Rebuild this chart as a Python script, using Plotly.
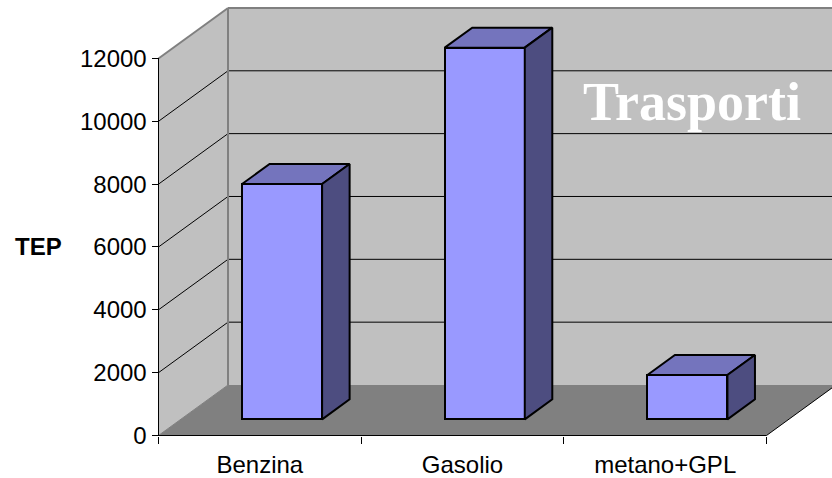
import plotly.graph_objects as go

categories = ["Benzina", "Gasolio", "metano+GPL"]
tep_values = [7490, 11830, 1410]
y_tick_values = [0, 2000, 4000, 6000, 8000, 10000, 12000]

WIDTH, HEIGHT = 832, 478

# Axis calibration: one category band and one TEP unit, in screen pixels.
PX_PER_CATEGORY = 202.67
PX_PER_TEP = 0.03142
AXIS_X_PX = 158.5
AXIS_Y_PX = 435.5

# Oblique projection of the box: a full unit of depth moves a point this far.
DEPTH_X = 69.5 / PX_PER_CATEGORY
DEPTH_Y = 50.5 / PX_PER_TEP
BAR_WIDTH = 0.395
BAR_FRONT_DEPTH = 0.32
BAR_BACK_DEPTH = 0.716

FRONT, TOP, SIDE = "#9999FF", "#7474BD", "#4D4D80"
WALL, FLOOR, EDGE = "#C0C0C0", "#808080", "#808080"
N = len(categories)


def proj(x, value, depth=0.0):
    return x + depth * DEPTH_X, value + depth * DEPTH_Y


def path(points):
    return "M" + " L".join(f"{x},{y}" for x, y in points) + " Z"


def wall_shape(points, fill, line_color="rgba(0,0,0,0)", line_width=0):
    return dict(type="path", path=path(points), xref="x", yref="y", layer="below",
                fillcolor=fill, line=dict(color=line_color, width=line_width))


def seg(p, q, color, width):
    return dict(type="line", xref="x", yref="y", layer="below",
                x0=p[0], y0=p[1], x1=q[0], y1=q[1],
                line=dict(color=color, width=width))


top_tick = y_tick_values[-1]
shapes = [
    # back wall, side wall, floor
    wall_shape([proj(0, 0, 1), proj(N, 0, 1), proj(N, top_tick, 1), proj(0, top_tick, 1)], WALL),
    wall_shape([proj(0, 0), proj(0, 0, 1), proj(0, top_tick, 1), proj(0, top_tick)], WALL),
    wall_shape([proj(0, 0), proj(N, 0), proj(N, 0, 1), proj(0, 0, 1)], FLOOR),
]
# gridlines run along the side wall and then across the back wall
for v in y_tick_values[1:-1]:
    shapes.append(seg(proj(0, v), proj(0, v, 1), "#000000", 1))
    shapes.append(seg(proj(0, v, 1), proj(N, v, 1), "#000000", 1))
shapes += [
    seg(proj(0, top_tick), proj(0, top_tick, 1), EDGE, 2),
    seg(proj(0, top_tick, 1), proj(N, top_tick, 1), EDGE, 2),
    seg(proj(0, 0, 1), proj(0, top_tick, 1), EDGE, 2),
    seg(proj(0, 0), proj(0, 0, 1), EDGE, 1),
    seg(proj(N, 0), proj(N, 0, 1), "#000000", 1),
    # axis lines
    seg(proj(0, 0), proj(0, top_tick), "#000000", 1),
    seg(proj(0, 0), proj(N, 0), "#000000", 1),
]

fig = go.Figure()

# Bar fronts stand on the floor, part way into the depth of the box.
centres = [i + 0.5 + BAR_FRONT_DEPTH * DEPTH_X for i in range(N)]
fig.add_trace(go.Bar(
    x=centres,
    y=tep_values,
    base=[BAR_FRONT_DEPTH * DEPTH_Y] * N,
    width=BAR_WIDTH,
    marker=dict(color=FRONT, line=dict(color="#000000", width=2)),
    showlegend=False,
    hoverinfo="skip",
))

# Top and side faces are extruded from the same values.
d = BAR_BACK_DEPTH - BAR_FRONT_DEPTH
for cx, v in zip(centres, tep_values):
    base = BAR_FRONT_DEPTH * DEPTH_Y
    left, right = cx - BAR_WIDTH / 2, cx + BAR_WIDTH / 2
    top = base + v
    for xs, ys, color in [
        ([left, right, right + d * DEPTH_X, left + d * DEPTH_X, left],
         [top, top, top + d * DEPTH_Y, top + d * DEPTH_Y, top], TOP),
        ([right, right + d * DEPTH_X, right + d * DEPTH_X, right, right],
         [top, top + d * DEPTH_Y, base + d * DEPTH_Y, base, top], SIDE),
    ]:
        fig.add_trace(go.Scatter(
            x=xs, y=ys, mode="lines", fill="toself", fillcolor=color,
            line=dict(color="#000000", width=2), showlegend=False, hoverinfo="skip",
        ))

tick_font = dict(family="Liberation Sans", size=24, color="#000000")

x_min = -AXIS_X_PX / PX_PER_CATEGORY
x_max = (WIDTH - AXIS_X_PX) / PX_PER_CATEGORY
y_min = -(HEIGHT - AXIS_Y_PX) / PX_PER_TEP
y_max = AXIS_Y_PX / PX_PER_TEP

fig.update_layout(
    width=WIDTH,
    height=HEIGHT,
    margin=dict(l=0, r=0, t=0, b=0),
    paper_bgcolor="#FFFFFF",
    plot_bgcolor="#FFFFFF",
    shapes=shapes,
    bargap=0,
    xaxis=dict(
        range=[x_min, x_max], domain=[0, 1], anchor="free",
        position=(HEIGHT - AXIS_Y_PX) / HEIGHT,
        tickmode="array", tickvals=[0.5, 1.5, 2.5], ticktext=categories,
        ticks="", tickfont=tick_font, showgrid=False, zeroline=False, showline=False,
        ticklabelstandoff=12, automargin=False,
        minor=dict(tickmode="array", tickvals=[0, 1, 2, 3], ticks="outside",
                   ticklen=7, tickwidth=1, tickcolor="#000000", showgrid=False),
    ),
    yaxis=dict(
        range=[y_min, y_max], domain=[0, 1], anchor="free",
        position=AXIS_X_PX / WIDTH,
        tickmode="array", tickvals=y_tick_values,
        ticktext=[str(v) for v in y_tick_values],
        ticks="outside", ticklen=7, tickwidth=1, tickcolor="#000000",
        tickfont=tick_font, showgrid=False, zeroline=False, showline=False,
        automargin=False,
    ),
    annotations=[
        dict(text="<b>TEP</b>", xref="x", yref="y", x=x_min + 38 / PX_PER_CATEGORY, y=6000,
             showarrow=False, font=dict(family="Liberation Sans", size=24, color="#000000")),
        dict(text="<b>Trasporti</b>", xref="x", yref="y", x=2.63, y=10620,
             showarrow=False, font=dict(family="Liberation Serif", size=54, color="#FFFFFF")),
    ],
)

fig.write_html("out.html")
